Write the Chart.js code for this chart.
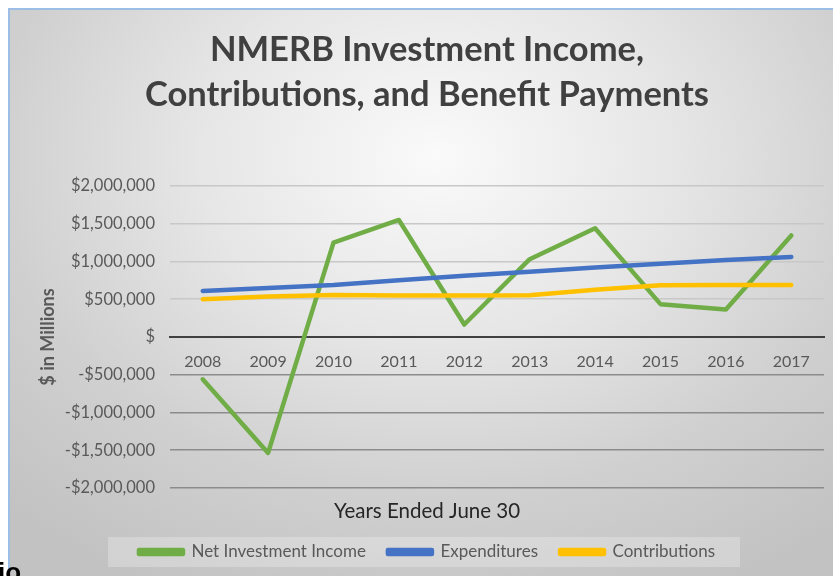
<!DOCTYPE html>
<html>
<head>
<meta charset="utf-8">
<script src="https://cdn.jsdelivr.net/npm/chart.js@4.4.1/dist/chart.umd.min.js"></script>
<style>
    html, body { margin: 0; padding: 0; background: #fff; overflow: hidden; width: 833px; height: 576px; }
    .frame {
        position: absolute; left: 8px; top: 8px; width: 836px; height: 566px;
        border-left: 2px solid #9bbde6; border-top: 2px solid #9bbde6;
        background: radial-gradient(ellipse 75% 85% at 51% 26%, #fafafa 0%, #e6e6e6 38%, #d0d0d0 70%, #c2c2c2 100%);
    }
    .frame canvas { display: block; }
    .stray { position: absolute; left: -2px; top: 559px; font: bold 26px "Liberation Sans", Arial, sans-serif; line-height: 1; color: #000; }
</style>
</head>
<body>
<div class="frame"><canvas id="chart" width="836" height="566"></canvas></div>
<div class="stray">io</div>
<script>
const years = ['2008', '2009', '2010', '2011', '2012', '2013', '2014', '2015', '2016', '2017']
const netInvestmentIncome = [-560000, -1535000, 1250000, 1550000, 165000, 1030000, 1440000, 435000, 365000, 1345000]
const expenditures = [610000, 650000, 690000, 750000, 810000, 865000, 920000, 970000, 1020000, 1060000]
const contributions = [500000, 535000, 555000, 550000, 548000, 552000, 625000, 685000, 688000, 690000]

const FONT = 'Lato, "Open Sans", sans-serif'

// light box behind the legend, like the Excel legend fill
const legendBox = {
    id: 'legendBox',
    beforeDraw(chart) {
        const lg = chart.legend
        if (!lg || !lg.legendHitBoxes || !lg.legendHitBoxes.length) return
        const boxes = lg.legendHitBoxes
        const left = Math.min(...boxes.map(b => b.left))
        const right = Math.max(...boxes.map(b => b.left + b.width))
        const cy = boxes[0].top + boxes[0].height / 2
        const ctx = chart.ctx
        ctx.save()
        ctx.fillStyle = 'rgba(255, 255, 255, 0.25)'
        ctx.fillRect(left - 31, cy - 15, right - left + 56, 30)
        ctx.restore()
    }
}

const formatMoney = (v) => {
    if (v === 0) return '$'
    return (v < 0 ? '-$' : '$') + Math.abs(v).toLocaleString('en-US')
}

new Chart(document.getElementById('chart'), {
    type: 'line',
    data: {
        labels: years,
        datasets: [
            {
                label: 'Net Investment Income',
                data: netInvestmentIncome,
                borderColor: '#70ad47',
                backgroundColor: '#70ad47',
                order: 3
            },
            {
                label: 'Expenditures',
                data: expenditures,
                borderColor: '#4472c4',
                backgroundColor: '#4472c4',
                order: 2
            },
            {
                label: 'Contributions',
                data: contributions,
                borderColor: '#ffc000',
                backgroundColor: '#ffc000',
                order: 1
            }
        ]
    },
    options: {
        responsive: false,
        animation: false,
        devicePixelRatio: 1,
        elements: {
            line: { borderWidth: 4.5, tension: 0, borderCapStyle: 'round', borderJoinStyle: 'round', fill: false },
            point: { radius: 0, hoverRadius: 0 }
        },
        layout: {
            padding: { left: 20, right: 22, top: 0, bottom: 5.5 }
        },
        plugins: {
            title: {
                display: true,
                text: ['NMERB Investment Income,', 'Contributions, and Benefit Payments'],
                color: '#404040',
                font: { family: FONT, size: 34.5, weight: 'bold', lineHeight: 1.304 },
                padding: { top: 17.5, bottom: 68.5 }
            },
            subtitle: {
                display: true,
                position: 'bottom',
                weight: 500,
                text: 'Years Ended June 30',
                color: '#262626',
                font: { family: FONT, size: 20.5, lineHeight: 1.0 },
                padding: { top: 13, bottom: 0 }
            },
            legend: {
                display: true,
                position: 'bottom',
                labels: {
                    boxWidth: 44,
                    boxHeight: 4,
                    padding: 22,
                    color: '#595959',
                    font: { family: FONT, size: 17 },
                    sort: (a, b) => a.datasetIndex - b.datasetIndex
                }
            },
            tooltip: { enabled: false }
        },
        scales: {
            x: {
                position: { y: 0 },
                offset: true,
                grid: { display: false },
                border: { display: true, color: '#404040', width: 2 },
                ticks: {
                    color: '#595959',
                    font: { family: FONT, size: 16 },
                    padding: 7,
                    maxRotation: 0
                }
            },
            y: {
                min: -2000000,
                max: 2000000,
                afterFit(scale) { scale.width = 140 },
                border: { display: false },
                grid: {
                    drawTicks: false,
                    lineWidth: (c) => (c.tick && c.tick.value === 0 ? 2 : 1.5),
                    color: (c) => {
                        if (!c.tick) return '#bfbfbf'
                        if (c.tick.value === 0) return '#404040'
                        return c.tick.value > 0 ? '#c8c8c8' : '#8c8c8c'
                    }
                },
                ticks: {
                    stepSize: 500000,
                    padding: 15,
                    color: '#595959',
                    font: { family: FONT, size: 16.5 },
                    callback: formatMoney
                },
                title: {
                    display: true,
                    text: '$ in Millions',
                    color: '#595959',
                    font: { family: FONT, size: 18, weight: 'bold', lineHeight: 1.2 },
                    padding: { top: 7, bottom: 0 }
                }
            }
        }
    },
    plugins: [legendBox]
})
</script>
</body>
</html>
